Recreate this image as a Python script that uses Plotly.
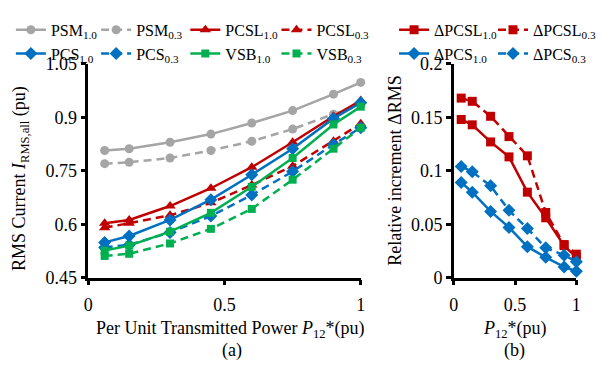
import plotly.graph_objects as go

W, H = 601, 369

# ---------------- data ----------------
p12 = [0.06, 0.15, 0.3, 0.45, 0.6, 0.75, 0.9, 1.0]

psm_10 = [0.807, 0.812, 0.830, 0.853, 0.884, 0.919, 0.965, 0.998]
psm_03 = [0.770, 0.774, 0.786, 0.807, 0.833, 0.867, 0.909, 0.935]
pcsl_10 = [0.603, 0.612, 0.651, 0.701, 0.760, 0.830, 0.903, 0.947]
pcsl_03 = [0.590, 0.603, 0.625, 0.660, 0.710, 0.763, 0.833, 0.882]
pcs_10 = [0.549, 0.567, 0.612, 0.669, 0.739, 0.812, 0.897, 0.941]
pcs_03 = [0.535, 0.542, 0.577, 0.623, 0.682, 0.748, 0.824, 0.871]
vsb_10 = [0.526, 0.540, 0.579, 0.632, 0.705, 0.786, 0.880, 0.930]
vsb_03 = [0.511, 0.517, 0.546, 0.587, 0.643, 0.725, 0.812, 0.871]

d_pcsl_10 = [0.148, 0.143, 0.127, 0.113, 0.080, 0.056, 0.030, 0.019]
d_pcsl_03 = [0.168, 0.165, 0.151, 0.132, 0.114, 0.061, 0.031, 0.022]
d_pcs_10 = [0.089, 0.080, 0.062, 0.047, 0.029, 0.019, 0.010, 0.006]
d_pcs_03 = [0.104, 0.099, 0.086, 0.063, 0.046, 0.028, 0.021, 0.015]

left_yticks = [0.45, 0.6, 0.75, 0.9, 1.05]
left_yticktext = ["0.45", "0.6", "0.75", "0.9", "1.05"]
right_yticks = [0, 0.05, 0.1, 0.15, 0.2]
right_yticktext = ["0", "0.05", "0.1", "0.15", "0.2"]
xticks = [0, 0.5, 1]
xticktext = ["0", "0.5", "1"]

# ---------------- styles ----------------
GRAY = "#A5A5A5"
RED = "#C00000"
BLUE = "#0070C0"
GREEN = "#00B050"
FONT = "Liberation Serif"
DASH = "8px,5px"


def px(x):
    return x / W


def py(y):
    return 1 - y / H


fig = go.Figure()


def add(x, y, name, color, symbol, msize, dash, xa, ya, legend):
    fig.add_trace(go.Scatter(
        x=x, y=y, name=name, mode="lines+markers",
        line=dict(color=color, width=2.5, dash=dash),
        marker=dict(color=color, symbol=symbol, size=msize),
        xaxis=xa, yaxis=ya, legend=legend, cliponaxis=False,
    ))


add(p12, psm_10, "PSM<sub>1.0</sub>", GRAY, "circle", 9, "solid", "x", "y", "legend")
add(p12, psm_03, "PSM<sub>0.3</sub>", GRAY, "circle", 9, DASH, "x", "y", "legend2")
add(p12, pcsl_10, "PCSL<sub>1.0</sub>", RED, "triangle-up", 10, "solid", "x", "y", "legend3")
add(p12, pcsl_03, "PCSL<sub>0.3</sub>", RED, "triangle-up", 10, DASH, "x", "y", "legend4")
add(p12, pcs_10, "PCS<sub>1.0</sub>", BLUE, "diamond", 10, "solid", "x", "y", "legend")
add(p12, pcs_03, "PCS<sub>0.3</sub>", BLUE, "diamond", 10, DASH, "x", "y", "legend2")
add(p12, vsb_10, "VSB<sub>1.0</sub>", GREEN, "square", 8, "solid", "x", "y", "legend3")
add(p12, vsb_03, "VSB<sub>0.3</sub>", GREEN, "square", 8, DASH, "x", "y", "legend4")

add(p12, d_pcsl_10, "ΔPCSL<sub>1.0</sub>", RED, "square", 9, "solid", "x2", "y2", "legend5")
add(p12, d_pcsl_03, "ΔPCSL<sub>0.3</sub>", RED, "square", 9, DASH, "x2", "y2", "legend6")
add(p12, d_pcs_10, "ΔPCS<sub>1.0</sub>", BLUE, "diamond", 10, "solid", "x2", "y2", "legend5")
add(p12, d_pcs_03, "ΔPCS<sub>0.3</sub>", BLUE, "diamond", 10, DASH, "x2", "y2", "legend6")

axis_common = dict(
    showline=True, linecolor="black", linewidth=2.5, mirror=False,
    showgrid=False, zeroline=False, ticks="outside", ticklen=5, tickwidth=2.5,
    tickcolor="black", tickfont=dict(family=FONT, size=18, color="black"),
)

y_top, y_bot = 57, 283
fig.update_layout(
    width=W, height=H, margin=dict(l=0, r=0, t=0, b=0),
    paper_bgcolor="white", plot_bgcolor="white",
    font=dict(family=FONT, size=18, color="black"),
    xaxis=dict(domain=[px(85), px(363)], range=[0, 1], tickvals=xticks, ticktext=xticktext,
               anchor="y", ticklabelstandoff=4, **axis_common),
    yaxis=dict(domain=[py(y_bot), py(y_top)], range=[0.45, 1.05], tickvals=left_yticks,
               ticktext=left_yticktext, anchor="x", **axis_common),
    xaxis2=dict(domain=[px(458), px(583)], range=[0, 1], tickvals=xticks, ticktext=xticktext,
                anchor="y2", ticklabelstandoff=4, **axis_common),
    yaxis2=dict(domain=[py(y_bot), py(y_top)], range=[0, 0.2], tickvals=right_yticks,
                ticktext=right_yticktext, anchor="x2", **axis_common),
    showlegend=True,
)

leg_common = dict(orientation="v", xanchor="left", yanchor="top", y=py(3),
                  bgcolor="rgba(0,0,0,0)", font=dict(family=FONT, size=16, color="black"),
                  tracegroupgap=0, itemwidth=30)
legend_x = [6, 93, 184, 277, 397, 498]
fig.update_layout(
    legend=dict(x=px(legend_x[0]), **leg_common),
    legend2=dict(x=px(legend_x[1]), **leg_common),
    legend3=dict(x=px(legend_x[2]), **leg_common),
    legend4=dict(x=px(legend_x[3]), **leg_common),
    legend5=dict(x=px(legend_x[4]), **leg_common),
    legend6=dict(x=px(legend_x[5]), **leg_common),
)

ann = dict(xref="paper", yref="paper", showarrow=False,
           font=dict(family=FONT, size=18, color="black"))
fig.add_annotation(text="RMS Current <i>I</i><sub>RMS,all</sub> (pu)", x=px(16), y=py(178),
                   textangle=-90, xanchor="center", yanchor="middle", **ann)
fig.add_annotation(text="Per Unit Transmitted Power <i>P</i><sub>12</sub>*(pu)", x=px(230), y=py(338),
                   xanchor="center", yanchor="middle", **ann)
fig.add_annotation(text="(a)", x=px(232), y=py(360), xanchor="center", yanchor="middle", **ann)
fig.add_annotation(text="Relative increment ΔRMS", x=px(398), y=py(170),
                   textangle=-90, xanchor="center", yanchor="middle", **ann)
fig.add_annotation(text="<i>P</i><sub>12</sub>*(pu)", x=px(520), y=py(338),
                   xanchor="center", yanchor="middle", **ann)
fig.add_annotation(text="(b)", x=px(520), y=py(360), xanchor="center", yanchor="middle", **ann)

fig.write_html("out.html")
